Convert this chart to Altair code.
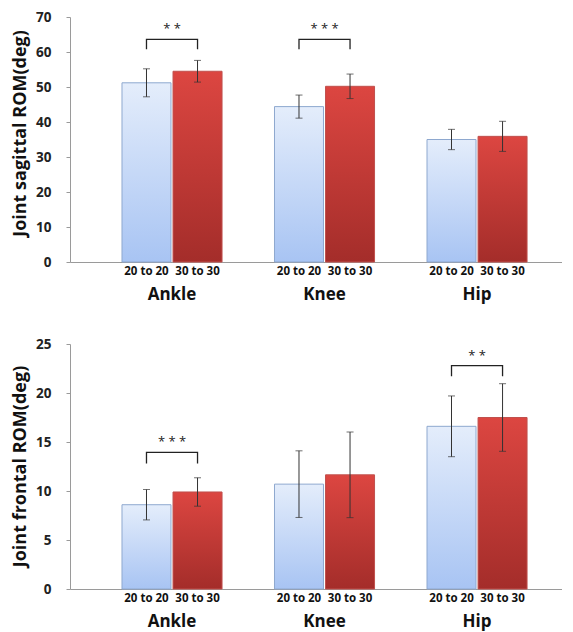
import altair as alt
import pandas as pd

joints = ["Ankle", "Knee", "Hip"]
conditions = ["20 to 20", "30 to 30"]

# Sagittal ROM (deg)
sag_mean_20 = [51.2, 44.4, 35.0]
sag_sd_20 = [4.0, 3.3, 2.9]
sag_mean_30 = [54.5, 50.2, 35.9]
sag_sd_30 = [3.1, 3.5, 4.3]
sag_br_joints = ["Ankle", "Knee"]
sag_br_low = [60.8, 60.8]
sag_br_high = [63.6, 63.6]
sag_br_star_y = [66.5, 66.5]
sag_br_stars = ["* *", "* * *"]

# Frontal ROM (deg)
fro_mean_20 = [8.6, 10.7, 16.6]
fro_sd_20 = [1.55, 3.4, 3.1]
fro_mean_30 = [9.9, 11.65, 17.5]
fro_sd_30 = [1.45, 4.37, 3.45]
fro_br_joints = ["Ankle", "Hip"]
fro_br_low = [12.8, 21.7]
fro_br_high = [13.95, 22.8]
fro_br_star_y = [14.95, 23.8]
fro_br_stars = ["* * *", "* *"]

FONT = "Open Sans"
W, H = 492, 245

light_grad = alt.LinearGradient(
    gradient="linear", x1=0, y1=0, x2=0, y2=1,
    stops=[alt.GradientStop(color="#e4edfb", offset=0),
           alt.GradientStop(color="#a8c4f3", offset=1)])
red_grad = alt.LinearGradient(
    gradient="linear", x1=0, y1=0, x2=0, y2=1,
    stops=[alt.GradientStop(color="#dc4641", offset=0),
           alt.GradientStop(color="#a42d2a", offset=1)])


def panel(m20, s20, m30, s30, bj, blo, bhi, bsy, bst, ytitle, ymax, ystep, title_y):
    rows = []
    for j, a, b, c, d in zip(joints, m20, s20, m30, s30):
        rows.append(dict(joint=j, cond=conditions[0], mean=a, lo=a - b, hi=a + b))
        rows.append(dict(joint=j, cond=conditions[1], mean=c, lo=c - d, hi=c + d))
    df = pd.DataFrame(rows)

    brows = []
    for j, lo, hi in zip(bj, blo, bhi):
        brows += [dict(joint=j, cond=conditions[0], yv=lo, k=0),
                  dict(joint=j, cond=conditions[0], yv=hi, k=1),
                  dict(joint=j, cond=conditions[1], yv=hi, k=2),
                  dict(joint=j, cond=conditions[1], yv=lo, k=3)]
    bdf = pd.DataFrame(brows)
    sdf = pd.DataFrame(dict(joint=bj, sy=bsy, stars=bst))

    xscale = alt.Scale(domain=joints, paddingInner=0.344, paddingOuter=0.285, align=0.598)
    x = alt.X("joint:N", scale=xscale, sort=joints,
              axis=alt.Axis(title=None, labelAngle=0, labelFont=FONT, labelFontSize=17,
                            labelFontWeight="bold", labelColor="#111", labelPadding=24,
                            ticks=False, domainColor="#9a9a9a"))
    xo = alt.XOffset("cond:N", scale=alt.Scale(domain=conditions, paddingInner=0.04, paddingOuter=0))
    yscale = alt.Scale(domain=[0, ymax], nice=False)
    yaxis = alt.Axis(title=ytitle, titleFont=FONT, titleFontSize=18, titleFontWeight="bold",
                     titleColor="#111", titlePadding=6, titleY=title_y,
                     labelFont=FONT, labelFontSize=13.5, labelFontWeight="bold",
                     labelColor="#222", labelPadding=15,
                     values=list(range(0, ymax + 1, ystep)), grid=False,
                     domainColor="#9a9a9a", tickColor="#9a9a9a", tickSize=4)

    def Y(field):
        return alt.Y(field, scale=yscale, stack=None, axis=yaxis, title=ytitle)

    base = alt.Chart(df)
    light = base.transform_filter(alt.datum.cond == conditions[0]).mark_bar(
        color=light_grad, stroke="#8ea8cf", strokeWidth=1).encode(x=x, xOffset=xo, y=Y("mean:Q"))
    red = base.transform_filter(alt.datum.cond == conditions[1]).mark_bar(
        color=red_grad, stroke="#c0504d", strokeWidth=1).encode(x=x, xOffset=xo, y=Y("mean:Q"))
    err = base.mark_rule(color="#333", strokeWidth=1).encode(
        x=x, xOffset=xo, y=Y("lo:Q"), y2="hi:Q")
    cap_lo = base.mark_tick(color="#333", size=7, thickness=1).encode(
        x=x, xOffset=xo, y=Y("lo:Q"))
    cap_hi = base.mark_tick(color="#333", size=7, thickness=1).encode(
        x=x, xOffset=xo, y=Y("hi:Q"))
    sub = base.mark_text(font=FONT, fontSize=11.5, fontWeight="bold", color="#111",
                         baseline="middle").encode(
        x=x, xOffset=xo, y=alt.value(H + 10), text="cond:N")
    bracket = alt.Chart(bdf).mark_line(color="#222", strokeWidth=1.3).encode(
        x=x, xOffset=xo, y=Y("yv:Q"),
        detail="joint:N", order="k:Q")
    stars = alt.Chart(sdf).mark_text(font=FONT, fontSize=13, color="#222",
                                     baseline="middle").encode(
        x=x, y=Y("sy:Q"), text="stars:N")

    return alt.layer(light, red, err, cap_lo, cap_hi, sub, bracket, stars).properties(
        width=W, height=H)


top = panel(sag_mean_20, sag_sd_20, sag_mean_30, sag_sd_30,
            sag_br_joints, sag_br_low, sag_br_high, sag_br_star_y, sag_br_stars,
            "Joint sagittal ROM(deg)", 70, 10, 116)
bottom = panel(fro_mean_20, fro_sd_20, fro_mean_30, fro_sd_30,
               fro_br_joints, fro_br_low, fro_br_high, fro_br_star_y, fro_br_stars,
               "Joint frontal ROM(deg)", 25, 5, 122)

chart = alt.vconcat(top, bottom, spacing=35).properties(
    padding={"left": 3, "top": 2, "right": 0, "bottom": 6}
).configure(background="white").configure_view(stroke=None)

chart.save("out.html", embed_options={"renderer": "svg", "actions": False})
